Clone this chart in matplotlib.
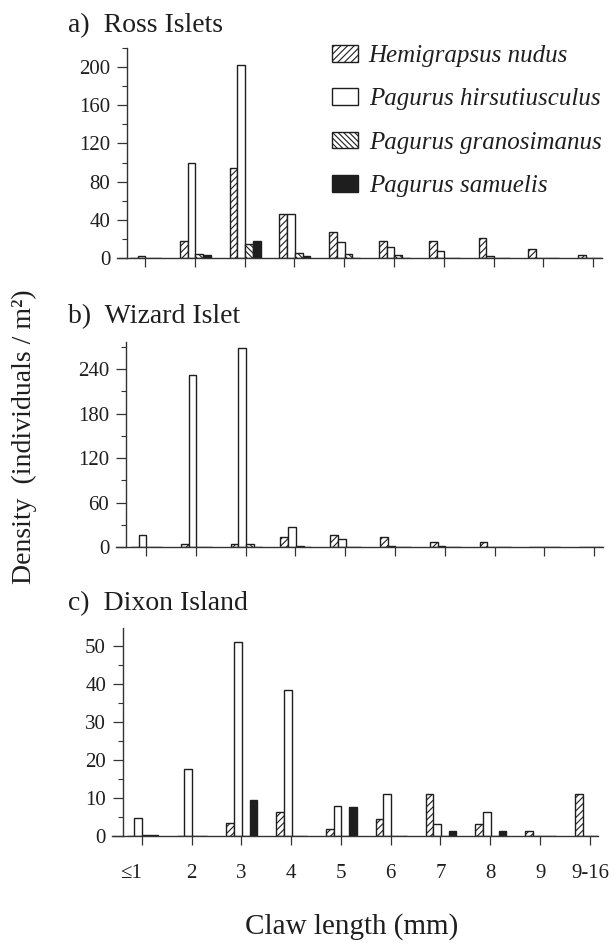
import numpy as np
import matplotlib.pyplot as plt
from matplotlib.patches import Patch
from matplotlib.ticker import MultipleLocator

plt.rcParams['font.family'] = ['Liberation Serif', 'DejaVu Serif']
plt.rcParams['hatch.linewidth'] = 0.8
plt.rcParams['hatch.color'] = '#222222'

categories = ['\u22641', '2', '3', '4', '5', '6', '7', '8', '9', '9-16']
species = ['Hemigrapsus nudus', 'Pagurus hirsutiusculus',
           'Pagurus granosimanus', 'Pagurus samuelis']

# a) Ross Islets
ross_hemi = [0, 18, 94, 46, 27, 18, 18, 21, 9, 3]
ross_hirs = [2.5, 100, 202, 46, 17, 12, 7, 2.5, 0, 0]
ross_gran = [0, 4, 15, 5, 4.5, 3, 0, 0, 0, 0]
ross_sam = [0, 3, 17.5, 2, 0, 0, 0, 0, 0, 0]

# b) Wizard Islet
wiz_hemi = [0, 5, 4, 14, 16.5, 13.5, 6.5, 6.5, 0, 0]
wiz_hirs = [16, 232, 268, 28, 11, 2.3, 2, 1, 0, 0]
wiz_gran = [0, 0, 4, 2, 0, 0, 0, 0, 0, 0]
wiz_sam = [0, 0, 1, 1, 0, 0, 0, 0, 0, 0]

# c) Dixon Island
dix_hemi = [0, 0, 3.3, 6.4, 1.8, 4.6, 11, 3.2, 1.4, 11]
dix_hirs = [4.8, 17.5, 51, 38.4, 7.9, 11, 3.2, 6.4, 0, 0]
dix_gran = [0.2, 0, 0, 0, 0, 0, 0, 0, 0, 0]
dix_sam = [0.2, 0, 9.5, 0, 7.6, 0, 1.4, 1.4, 0, 0]

W, H = 615, 943
fig = plt.figure(figsize=(W / 100, H / 100), dpi=100)

SP = 49.8   # pixels per category
BW = 0.155  # bar width
INK = '#1e1e1e'
styles = [dict(facecolor='white', hatch='/////'),
          dict(facecolor='white', hatch=None),
          dict(facecolor='white', hatch='\\\\\\\\\\\\'),
          dict(facecolor=INK, hatch=None)]


def panel(left, right, top, bottom, spine, x0, ymax, major, minor, series, show_labels):
    ax = fig.add_axes([left / W, 1 - bottom / H, (right - left) / W, (bottom - top) / H])
    ax.set_xlim((left - x0) / SP, (right - x0) / SP)
    ax.set_ylim(0, ymax)
    x = np.arange(len(categories))
    for k, vals in enumerate(series):
        ax.bar(x + (k - 1.5) * BW + 0.01, vals, BW, edgecolor=INK,
               linewidth=1.0, zorder=2, **styles[k])
    for s in ['top', 'right']:
        ax.spines[s].set_visible(False)
    ax.spines['left'].set_position(('data', (spine - x0) / SP))
    for s in ['left', 'bottom']:
        ax.spines[s].set_color('#333333')
        ax.spines[s].set_linewidth(1.0)
    ax.yaxis.set_major_locator(MultipleLocator(major))
    ax.yaxis.set_minor_locator(MultipleLocator(minor))
    ax.tick_params(axis='y', which='major', direction='out', length=7, width=0.9,
                   labelsize=15, pad=5, colors='#333333', labelcolor=INK)
    ax.tick_params(axis='y', which='minor', direction='out', length=3.5, width=0.8,
                   colors='#333333')
    ax.set_xticks(x)
    ax.tick_params(axis='x', direction='out', length=6.5, width=0.9, colors='#333333',
                   labelcolor=INK, labelsize=15, pad=14, labelbottom=show_labels)
    if show_labels:
        ax.set_xticklabels(categories)
        ax.get_xticklabels()[0].set_ha('right')
    ax.patch.set_alpha(0)
    return ax


ax_a = panel(117, 602, 48, 258, 127, 145, 220, 40, 20,
             [ross_hemi, ross_hirs, ross_gran, ross_sam], False)
ax_b = panel(116, 603, 341.7, 547.3, 126, 146, 277, 60, 30,
             [wiz_hemi, wiz_hirs, wiz_gran, wiz_sam], False)
ax_c = panel(112, 598, 628, 836, 122.7, 141.7, 54.7, 10, 5,
             [dix_hemi, dix_hirs, dix_gran, dix_sam], True)

for txt, yb in [('a)  Ross Islets', 32), ('b)  Wizard Islet', 322.7),
                ('c)  Dixon Island', 610)]:
    fig.text(68 / W, 1 - yb / H, txt, fontsize=20, color=INK, ha='left', va='baseline')

fig.text(24 / W, 1 - 437 / H, 'Density  (individuals / m\u00b2)', rotation=90,
         fontsize=20, color=INK, ha='center', va='center')
fig.text(352 / W, 1 - 927 / H, 'Claw length (mm)', fontsize=21, color=INK,
         ha='center', va='center')

handles = [Patch(edgecolor=INK, linewidth=1.0, **styles[k]) for k in range(4)]
fig.legend(handles, species, loc='upper left', bbox_to_anchor=(332 / W, 1 - 45 / H),
           frameon=False, prop=dict(family='Liberation Serif', style='italic', size=18),
           handlelength=1.05, handleheight=0.65, handletextpad=0.42,
           labelspacing=0.85, borderpad=0, borderaxespad=0, labelcolor=INK)

fig.savefig('out.png', dpi=100)
